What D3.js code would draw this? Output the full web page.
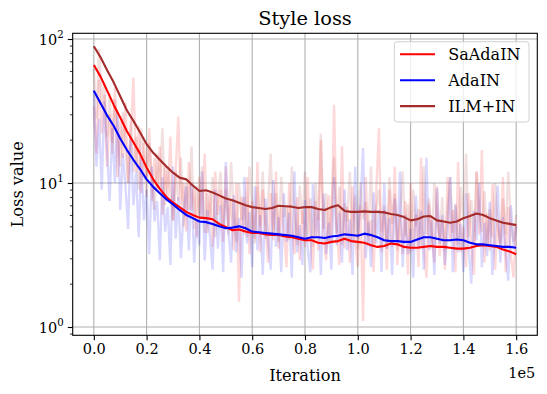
<!DOCTYPE html>
<html>
<head>
<meta charset="utf-8">
<script src="https://cdn.jsdelivr.net/npm/d3@7"></script>
<style>
  body { margin: 0; background: #fff; }
  svg { font-family: 'DejaVu Serif', serif; display: block; }
</style>
</head>
<body>
<svg id="chart" width="547" height="394"></svg>
<script>
(function() {
  'use strict';

  var seriesNames = ['SaAdaIN', 'AdaIN', 'ILM+IN'];
  var seriesColors = ['#ff0000', '#0000ff', '#a52a2a'];

  // raw losses, one value every 1000 iterations
  var rawStep = 1000;
  var rawSaAdaIN = [34, 16, 52, 22, 41, 13, 30, 19, 46, 11,
    27, 15, 36, 10, 22, 54, 12, 25, 8.5, 19,
    11, 24, 7.5, 15, 9, 18, 6, 13, 8, 21,
    5.5, 12, 29, 7, 10, 4.6, 14, 6.5, 9.5, 4.2,
    11, 5.8, 16, 4.5, 8.5, 3.6, 12, 6, 9, 3.9,
    13, 5, 7.8, 3.4, 10, 1.5, 8, 4.4, 11, 3.2,
    7.5, 4.1, 14, 3.3, 9, 5.2, 2.8, 8.5, 4, 12,
    3.5, 7, 4.6, 2.6, 10, 5, 3.2, 8, 2.9, 6.5,
    3.6, 11, 4.2, 2.5, 7.5, 3.4, 20, 4.4, 2.9, 8.2,
    3.8, 35, 5, 2.7, 18, 3.5, 6.8, 2.8, 9.5, 4.1,
    2.6, 7, 1.1, 11, 3.7, 5.5, 2.4, 8.8, 24, 3.3,
    6.5, 2.5, 9, 3.6, 13, 2.7, 5.8, 3.2, 7.5, 2.3,
    10, 3.4, 6, 2.6, 15, 3.8, 2.2, 7.2, 4.5, 2.8,
    9.5, 3.1, 5.6, 2.5, 11, 3.9, 6.5, 2.4, 14, 3.3,
    5, 2.6, 8.5, 3.7, 2.3, 12, 4.4, 17, 2.8, 6.2,
    3.4, 9.8, 2.5, 5.5, 3.8, 11, 2.4, 6.8, 3.1, 2.2,
    5.2];
  var rawAdaIN = [44, 13, 28, 9, 37, 17, 7.5, 24, 10, 31,
    6.5, 16, 9.5, 4.8, 21, 7, 12, 4.2, 15, 5.5,
    9, 3.2, 13, 5.4, 7.5, 2.9, 11, 4.6, 6.8, 2.7,
    13, 4.1, 8, 3, 6.2, 9.5, 3.4, 10, 2.8, 5.6,
    3.7, 12, 2.9, 6.5, 4.2, 2.5, 9, 3.5, 7, 2.4,
    14, 4.6, 2.8, 8.2, 3.3, 5.7, 2.2, 11, 3.8, 6.3,
    2.6, 9.5, 3.4, 6, 2.3, 7.8, 4, 2.5, 10.5, 3.6,
    5.8, 2.4, 8.5, 3.9, 6.2, 2.2, 12, 3.3, 5.1, 2.7,
    7.6, 3.5, 2.4, 9.8, 4.3, 6.5, 2.3, 8.4, 3.2, 5.3,
    2.5, 11, 3.7, 6.2, 2.8, 9, 3.4, 5.6, 2.3, 13,
    4.1, 7.2, 17.5, 3, 5.4, 2.6, 8.6, 3.8, 6.5, 2.4,
    10, 3.5, 5.7, 2.3, 7.8, 3.9, 12, 2.6, 6, 3.2,
    4.8, 2.2, 8.2, 3.6, 6.4, 2.5, 15, 3.4, 5.5, 2.3,
    9.2, 3.8, 6, 2.7, 4.5, 11, 2.4, 7, 3.3, 5.2,
    2.4, 8.5, 3.5, 2, 6.4, 4, 10, 2.6, 5.3, 3.1,
    7.4, 2.3, 4.6, 9.6, 2.8, 5.8, 3.3, 2.1, 7, 3.6,
    5];
  var rawILM = [62, 28, 85, 35, 50, 21, 42, 16, 38, 25,
    13, 31, 18, 10, 27, 12, 21, 9, 24, 14,
    8, 19, 11, 6.5, 16, 9, 24, 7, 13, 8.5,
    5.5, 12, 7.5, 15, 5, 10, 6.5, 18, 4.8, 9.5,
    6, 13, 4.5, 8.5, 5.6, 11, 4.2, 7.6, 12, 5.2,
    9, 4.4, 14, 6, 3.9, 10, 5.5, 8, 4.2, 13,
    6.2, 3.8, 9.5, 5, 12, 4.1, 7.5, 16, 4.6, 8.5,
    3.9, 11, 5.8, 7, 4, 13, 6, 3.7, 9.6, 5.2,
    12, 4.3, 7.8, 3.6, 10, 5.5, 22, 4.8, 8.5, 3.8,
    6.8, 15, 4.5, 9.4, 3.7, 7.2, 5.4, 12, 4, 8.2,
    3.5, 10, 5.6, 7.4, 4.2, 13, 3.6, 6.5, 9, 4.6,
    7, 3.5, 11, 5.2, 8.4, 3.4, 6, 12, 4.3, 7.2,
    3.3, 9, 5, 6.6, 3.6, 13, 4.4, 7.8, 3.5, 10,
    5.6, 4.2, 8, 3.4, 6.8, 11, 4.5, 7.2, 3.7, 9.4,
    5.5, 16, 4.2, 7.6, 3.9, 12, 6.4, 4.6, 8.8, 3.8,
    6.6, 4.2, 10, 5, 3.7, 7.8, 4.4, 12, 5.2, 3.9,
    6];

  // smoothed losses, one value every 2500 iterations
  var smoothStep = 2500;
  var smoothSaAdaIN = [66, 55, 44, 35, 28.5, 23, 19.2, 16, 12.8, 10.6,
    9.1, 8.0, 7.3, 6.8, 6.3, 6.0, 5.75, 5.7, 5.6, 5.2,
    4.95, 4.7, 4.75, 4.6, 4.5, 4.5, 4.4, 4.35, 4.35, 4.25,
    4.2, 4.1, 4.0, 4.0, 3.85, 3.8, 3.9, 3.95, 4.1, 3.95,
    3.9, 3.85, 3.7, 3.6, 3.65, 3.8, 3.75, 3.6, 3.55, 3.55,
    3.6, 3.65, 3.6, 3.6, 3.55, 3.5, 3.5, 3.55, 3.65, 3.7,
    3.65, 3.6, 3.45, 3.35, 3.2];
  var smoothAdaIN = [43.8, 36, 29.5, 25, 20.4, 17, 14.5, 12.5, 10.6, 9.4,
    8.5, 7.7, 7.1, 6.5, 6.0, 5.7, 5.4, 5.35, 5.2, 5.0,
    4.85, 4.9, 5.0, 4.85, 4.6, 4.55, 4.5, 4.45, 4.4, 4.35,
    4.3, 4.2, 4.1, 4.2, 4.2, 4.15, 4.25, 4.3, 4.4, 4.35,
    4.3, 4.45, 4.35, 4.2, 4.0, 3.95, 3.95, 3.9, 3.9, 4.05,
    4.2, 4.2, 4.1, 4.0, 4.0, 4.05, 4.0, 3.85, 3.75, 3.75,
    3.7, 3.65, 3.6, 3.6, 3.55];
  var smoothILM = [89, 75, 61, 50, 40, 32, 27, 22.5, 18.6, 16.2,
    14.5, 13, 11.8, 10.9, 10.6, 9.6, 8.8, 8.9, 8.6, 8.2,
    7.8, 7.6, 7.3, 7.0, 6.8, 6.7, 6.6, 6.7, 6.95, 6.9,
    6.85, 6.7, 6.8, 6.8, 6.6, 6.5, 6.8, 7.0, 6.4, 6.3,
    6.3, 6.35, 6.3, 6.3, 6.25, 6.1, 6.0, 5.8, 5.5, 5.6,
    5.85, 5.9, 5.5, 5.4, 5.3, 5.4, 5.7, 5.9, 6.15, 6.0,
    5.7, 5.5, 5.3, 5.2, 5.1];

  var xTicks = [0, 20000, 40000, 60000, 80000, 100000, 120000, 140000, 160000];
  var yTicks = [1, 10, 100];
  var yTickExps = ['0', '1', '2'];
  var yMinorTicks = [0.9, 2, 3, 4, 5, 6, 7, 8, 9, 20, 30, 40, 50, 60, 70, 80, 90];

  var rawSeries = [rawSaAdaIN, rawAdaIN, rawILM];
  var smoothSeries = [smoothSaAdaIN, smoothAdaIN, smoothILM];

  var W = 547, H = 394;
  var box = {left: 72.7, right: 537.3, top: 33.3, bottom: 335.3};

  var svg = d3.select('#chart');

  var x = d3.scaleLinear().domain([-8000, 168000]).range([box.left, box.right]);
  var y = d3.scaleLog().domain([Math.pow(10, -0.0576), Math.pow(10, 2.0396)])
    .range([box.bottom, box.top]);

  svg.append('rect').attr('width', W).attr('height', H).attr('fill', '#fff');

  // grid
  var grid = svg.append('g').attr('class', 'grid');
  grid.selectAll('.gx').data(xTicks).enter().append('line')
    .attr('x1', function(d) { return x(d); })
    .attr('x2', function(d) { return x(d); })
    .attr('y1', box.top).attr('y2', box.bottom)
    .attr('stroke', '#b0b0b0').attr('stroke-width', 1.1);
  grid.selectAll('.gy').data(yTicks).enter().append('line')
    .attr('y1', function(d) { return y(d); })
    .attr('y2', function(d) { return y(d); })
    .attr('x1', box.left).attr('x2', box.right)
    .attr('stroke', '#b0b0b0').attr('stroke-width', 1.1);

  svg.append('clipPath').attr('id', 'clip').append('rect')
    .attr('x', box.left).attr('y', box.top)
    .attr('width', box.right - box.left).attr('height', box.bottom - box.top);

  var plot = svg.append('g').attr('clip-path', 'url(#clip)');

  var rawLine = d3.line()
    .x(function(d, i) { return x(i * rawStep); })
    .y(function(d) { return y(d); });
  var smoothLine = d3.line()
    .x(function(d, i) { return x(i * smoothStep); })
    .y(function(d) { return y(d); });

  rawSeries.forEach(function(values, k) {
    plot.append('path').datum(values)
      .attr('d', rawLine)
      .attr('fill', 'none')
      .attr('stroke', seriesColors[k])
      .attr('stroke-opacity', 0.15)
      .attr('stroke-width', 2.4);
  });
  smoothSeries.forEach(function(values, k) {
    plot.append('path').datum(values)
      .attr('d', smoothLine)
      .attr('fill', 'none')
      .attr('stroke', seriesColors[k])
      .attr('stroke-width', 2.1)
      .attr('stroke-linejoin', 'round');
  });

  // axes
  var xAxis = d3.axisBottom(x).tickValues(xTicks).tickSize(4.9).tickPadding(4)
    .tickFormat(function(d) { return (d / 1e5).toFixed(1); });
  var gx = svg.append('g').attr('transform', 'translate(0,' + box.bottom + ')').call(xAxis);
  gx.select('.domain').remove();
  gx.selectAll('line').attr('stroke', '#000').attr('stroke-width', 1.1);
  gx.selectAll('text').attr('font-size', 14.5).attr('fill', '#000')
    .attr('font-family', 'DejaVu Serif');

  var yAxis = d3.axisLeft(y).tickValues(yTicks).tickSize(4.9).tickPadding(4)
    .tickFormat(function() { return ''; });
  var gy = svg.append('g').attr('transform', 'translate(' + box.left + ',0)').call(yAxis);
  gy.select('.domain').remove();
  gy.selectAll('line').attr('stroke', '#000').attr('stroke-width', 1.1);
  gy.selectAll('.tick text').each(function(d, i) {
    var t = d3.select(this).attr('font-size', 14.5).attr('fill', '#000')
      .attr('font-family', 'DejaVu Serif').attr('dy', '0.35em');
    t.append('tspan').text('10');
    t.append('tspan').attr('font-size', 10.2).attr('dy', '-0.6em').text(yTickExps[i]);
  });

  var yMinor = d3.axisLeft(y).tickValues(yMinorTicks).tickSize(2.8).tickFormat('');
  var gym = svg.append('g').attr('transform', 'translate(' + box.left + ',0)').call(yMinor);
  gym.select('.domain').remove();
  gym.selectAll('line').attr('stroke', '#000').attr('stroke-width', 0.8);

  svg.append('rect')
    .attr('x', box.left).attr('y', box.top)
    .attr('width', box.right - box.left).attr('height', box.bottom - box.top)
    .attr('fill', 'none').attr('stroke', '#000').attr('stroke-width', 1.1);

  // labels
  svg.append('text').attr('x', (box.left + box.right) / 2).attr('y', 25)
    .attr('text-anchor', 'middle').attr('font-size', 19.4).text('Style loss');
  svg.append('text').attr('x', (box.left + box.right) / 2).attr('y', 381)
    .attr('text-anchor', 'middle').attr('font-size', 16.2).text('Iteration');
  svg.append('text').attr('transform', 'translate(23,' + ((box.top + box.bottom) / 2) + ') rotate(-90)')
    .attr('text-anchor', 'middle').attr('font-size', 16.2).text('Loss value');
  svg.append('text').attr('x', box.right - 2).attr('y', 378)
    .attr('text-anchor', 'end').attr('font-size', 14.5).text('1e5');

  // legend
  var legend = svg.append('g');
  legend.append('rect')
    .attr('x', 394.3).attr('y', 41.7).attr('width', 134.7).attr('height', 80.3)
    .attr('rx', 3).attr('fill', '#fff').attr('fill-opacity', 0.8)
    .attr('stroke', '#d0d0d0').attr('stroke-width', 1);
  var rows = legend.selectAll('.row').data(seriesNames).enter().append('g')
    .attr('transform', function(d, i) { return 'translate(0,' + (54.3 + i * 25.9) + ')'; });
  rows.append('line').attr('x1', 400).attr('x2', 435)
    .attr('stroke', function(d, i) { return seriesColors[i]; }).attr('stroke-width', 2.1);
  rows.append('text').attr('x', 448.3).attr('dy', '0.35em')
    .attr('font-size', 16).text(function(d) { return d; });
})();
</script>
</body>
</html>
